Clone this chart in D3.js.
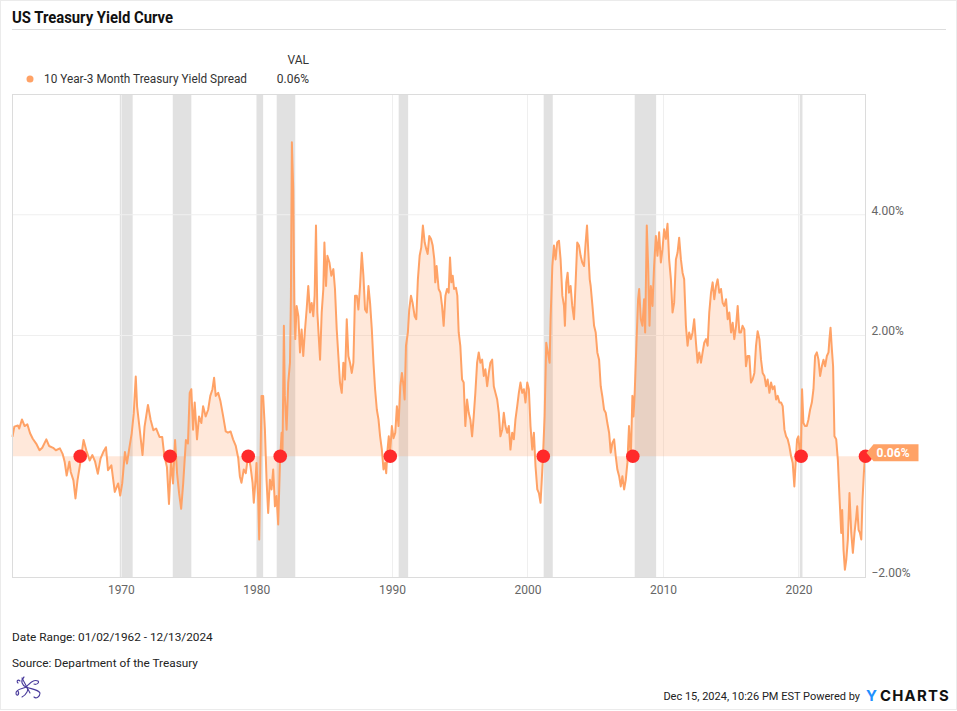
<!DOCTYPE html>
<html>
<head>
<meta charset="utf-8">
<script src="https://cdn.jsdelivr.net/npm/d3@7"></script>
<style>
  html, body { margin: 0; padding: 0; background: #fff; }
  svg { display: block; font-family: Roboto, "Noto Sans", sans-serif; }
</style>
</head>
<body>
<svg id="chart" width="957" height="711"></svg>
<script>
// ---------------- DATA ----------------
const chartTitle = "US Treasury Yield Curve";
const seriesName = "10 Year-3 Month Treasury Yield Spread";
const lastValueLabel = "0.06%";
const dateRangeText = "Date Range: 01/02/1962 - 12/13/2024";
const sourceText = "Source: Department of the Treasury";
const stampText = "Dec 15, 2024, 10:26 PM EST Powered by";

const startYear = 1962.003;
const endYear = 2024.95;
const yTickValues = [-2, 2, 4];
const yDomain = [-2, 6];

// recession periods (decimal years)
const recessions = [
  [1969.92, 1970.87], [1973.83, 1975.2], [1980.0, 1980.5], [1981.5, 1982.87],
  [1990.5, 1991.2], [2001.2, 2001.87], [2007.92, 2009.5], [2020.1, 2020.3]
];

// dates at which the spread crosses / touches zero (red markers)
const inversionDates = [1967.0, 1973.63, 1979.4, 1981.76, 1989.88, 2001.17, 2007.78, 2020.2, 2024.95];

// 10Y-3M spread (% points), [decimal year, value]
const spreadSeries = [
  [1962.0,0.32],[1962.14,0.49],[1962.4,0.51],[1962.5,0.46],[1962.7,0.61],[1962.9,0.50],
  [1963.1,0.53],[1963.3,0.38],[1963.5,0.29],[1963.75,0.21],[1964.0,0.10],[1964.2,0.14],
  [1964.5,0.28],[1964.7,0.17],[1965.0,0.14],[1965.2,0.10],[1965.5,0.13],[1965.7,0.04],
  [1965.85,-0.09],[1966.0,-0.32],[1966.2,-0.09],[1966.3,-0.26],[1966.5,-0.40],[1966.65,-0.70],
  [1966.8,-0.40],[1967.0,-0.12],[1967.25,0.27],[1967.45,0.10],[1967.7,-0.07],[1967.9,0.02],
  [1968.1,-0.09],[1968.3,-0.29],[1968.5,-0.04],[1968.7,0.07],[1968.9,0.15],[1969.05,-0.23],
  [1969.3,-0.15],[1969.55,-0.59],[1969.8,-0.45],[1969.95,-0.65],[1970.1,-0.45],[1970.3,0.07],
  [1970.45,-0.12],[1970.6,0.10],[1970.8,0.38],[1970.95,0.71],[1971.1,1.32],[1971.2,0.82],
  [1971.4,0.43],[1971.6,0.02],[1971.75,0.49],[1972.0,0.85],[1972.2,0.60],[1972.4,0.43],
  [1972.6,0.46],[1972.85,0.32],[1973.05,0.32],[1973.2,0.02],[1973.4,-0.18],[1973.55,-0.79],
  [1973.7,-0.07],[1973.85,-0.45],[1974.0,0.27],[1974.15,-0.29],[1974.3,-0.62],[1974.45,-0.87],
  [1974.6,-0.45],[1974.8,0.27],[1974.95,0.21],
  [1975.08,1.05],[1975.2,1.11],[1975.33,0.44],[1975.45,0.89],[1975.62,0.28],[1975.77,0.66],
  [1975.94,0.55],[1976.07,0.83],[1976.26,0.66],[1976.44,0.77],[1976.6,1.0],[1976.76,1.11],
  [1976.88,1.30],[1977.0,1.0],[1977.18,1.05],[1977.35,0.91],[1977.55,0.66],[1977.74,0.41],
  [1977.9,0.39],[1978.1,0.41],[1978.28,0.28],[1978.48,0.17],[1978.66,-0.03],[1978.78,-0.33],
  [1978.9,-0.44],[1979.07,-0.22],[1979.22,-0.28],[1979.4,0.03],[1979.57,-0.17],[1979.72,-0.44],
  [1979.81,-0.77],[1979.94,-0.39],[1980.01,-0.11],[1980.13,-0.66],[1980.21,-1.38],[1980.3,-0.11],
  [1980.38,1.0],[1980.5,1.0],[1980.63,0.44],[1980.75,-0.39],[1980.87,-0.94],[1981.0,-0.39],
  [1981.12,-0.55],[1981.24,-0.22],[1981.37,-0.83],[1981.49,-0.66],[1981.61,-1.13],[1981.74,-0.11],
  [1981.86,0.39],[1981.93,0.11],[1982.03,2.16],[1982.1,1.0],[1982.23,0.44],[1982.35,1.22],
  [1982.48,1.55],[1982.55,2.66],[1982.62,5.2],[1982.72,4.43],[1982.8,2.54],[1982.87,1.94],
  [1982.97,2.49],[1983.1,2.32],[1983.22,1.72],[1983.34,2.10],[1983.46,1.66],[1983.59,2.10],
  [1983.71,2.43],[1983.83,2.82],[1983.96,2.38],[1984.08,2.54],[1984.2,2.32],[1984.3,2.66],
  [1984.4,3.82],[1984.5,2.38],[1984.6,1.99],[1984.7,1.60],[1984.82,2.38],[1984.94,2.77],
  [1985.02,3.54],[1985.14,2.82],[1985.24,3.32],[1985.39,3.21],[1985.53,2.99],[1985.68,3.10],
  [1985.8,2.77],[1985.93,2.10],[1986.05,1.66],[1986.17,1.22],[1986.3,1.05],[1986.42,1.55],
  [1986.54,1.27],[1986.67,2.27],[1986.79,1.66],[1986.91,1.55],[1987.04,1.38],[1987.16,1.55],
  [1987.28,2.66],[1987.41,2.66],[1987.53,2.43],[1987.65,2.82],[1987.78,3.37],[1987.9,2.99],
  [1988.02,2.43],[1988.15,2.38],[1988.27,2.82],[1988.39,2.54],[1988.52,2.10],[1988.64,1.55],
  [1988.76,1.11],[1988.89,0.77],[1989.01,0.61],[1989.13,0.33],[1989.26,0.11],[1989.38,-0.22],
  [1989.5,-0.11],[1989.58,-0.28],[1989.68,0.11],[1989.77,0.33],[1989.87,0.06],[1990.0,0.50],
  [1990.12,0.30],[1990.25,0.39],[1990.37,0.83],[1990.49,0.50],[1990.62,1.16],[1990.74,1.38],
  [1990.86,1.16],[1990.94,0.94],[1991.04,1.83],[1991.18,2.05],[1991.28,2.43],[1991.41,2.66],
  [1991.53,2.54],[1991.68,2.32],[1991.8,2.27],[1991.92,2.93],[1992.05,3.32],[1992.17,3.46],
  [1992.29,3.82],[1992.42,3.54],[1992.54,3.43],[1992.64,3.35],[1992.76,3.65],[1992.89,3.60],
  [1993.01,3.49],[1993.13,3.26],[1993.2,2.88],[1993.3,3.15],[1993.45,2.77],[1993.58,2.71],
  [1993.7,2.49],[1993.82,2.16],[1993.95,2.66],[1994.07,2.77],[1994.19,2.71],[1994.29,3.29],
  [1994.39,2.88],[1994.49,2.99],[1994.59,2.77],[1994.73,2.79],[1994.83,2.66],[1994.93,2.05],
  [1995.05,1.83],[1995.18,1.27],[1995.3,1.22],[1995.42,0.50],[1995.55,0.94],[1995.67,0.72],
  [1995.79,0.61],[1995.92,0.33],[1996.04,0.66],[1996.16,1.05],[1996.29,1.55],[1996.41,1.72],
  [1996.53,1.55],[1996.66,1.60],[1996.78,1.33],[1996.9,1.44],[1997.03,1.16],[1997.15,1.38],
  [1997.27,1.55],[1997.4,1.60],[1997.52,1.16],[1997.64,1.05],[1997.77,0.94],[1997.89,0.72],
  [1998.01,0.33],[1998.14,0.44],[1998.26,0.72],[1998.38,0.50],[1998.51,0.39],[1998.63,0.50],
  [1998.75,0.11],[1998.88,0.39],[1999.0,0.28],[1999.12,0.61],[1999.25,0.83],[1999.37,1.05],
  [1999.49,1.22],[1999.62,1.05],[1999.74,1.11],[1999.86,0.89],[1999.99,1.22],[2000.11,1.11],
  [2000.23,0.50],[2000.36,0.11],[2000.48,0.39],[2000.6,-0.17],[2000.73,-0.55],[2000.85,-0.61],
  [2000.97,-0.77],[2001.05,-0.44],[2001.15,0.0],[2001.27,0.66],[2001.39,1.88],[2001.51,1.72],
  [2001.64,1.55],[2001.71,2.27],[2001.84,3.15],[2001.96,3.49],[2002.08,3.26],[2002.2,3.54],
  [2002.33,3.57],[2002.45,3.26],[2002.58,2.66],[2002.7,2.49],[2002.77,2.16],[2002.87,2.88],
  [2002.97,3.04],[2003.07,2.71],[2003.19,2.82],[2003.31,2.49],[2003.44,2.27],[2003.56,2.88],
  [2003.68,3.54],[2003.81,3.49],[2003.93,3.32],[2004.05,3.21],[2004.18,3.15],[2004.3,3.54],
  [2004.4,3.82],[2004.5,3.37],[2004.6,2.93],
  [2004.67,2.82],[2004.8,2.49],[2004.92,2.16],[2005.04,2.05],[2005.16,1.72],[2005.29,1.60],
  [2005.41,1.16],[2005.53,0.99],[2005.66,0.77],[2005.78,0.72],[2005.9,0.55],[2006.03,0.39],
  [2006.15,0.06],[2006.27,0.22],[2006.4,0.28],[2006.52,0.0],[2006.64,-0.22],[2006.77,-0.33],
  [2006.89,-0.50],[2007.01,-0.33],[2007.14,-0.55],[2007.26,-0.39],[2007.38,-0.11],[2007.5,0.50],
  [2007.63,-0.06],[2007.75,1.0],[2007.83,0.66],[2007.92,1.05],[2008.05,1.88],[2008.17,2.60],
  [2008.25,2.77],[2008.37,2.27],[2008.49,2.16],[2008.61,2.60],[2008.69,2.05],[2008.81,3.82],
  [2008.91,3.15],[2009.01,2.16],[2009.11,2.82],[2009.23,2.49],[2009.35,3.15],[2009.48,3.65],
  [2009.6,3.32],[2009.72,3.71],[2009.85,3.21],[2009.97,3.43],[2010.09,3.76],[2010.22,3.60],
  [2010.34,3.85],[2010.46,3.26],[2010.59,2.93],[2010.71,2.38],[2010.83,2.54],[2010.96,3.26],
  [2011.08,3.37],[2011.2,3.62],[2011.33,3.26],[2011.45,3.04],[2011.57,2.93],[2011.7,2.16],
  [2011.82,1.83],[2011.94,2.05],[2012.07,1.94],[2012.19,2.05],[2012.31,2.27],[2012.44,1.88],
  [2012.56,1.55],[2012.68,1.72],[2012.81,1.55],[2012.93,1.72],[2013.05,1.88],[2013.18,1.94],
  [2013.3,1.83],[2013.42,2.38],[2013.55,2.71],[2013.67,2.88],[2013.79,2.60],[2013.92,2.82],
  [2014.04,2.93],[2014.16,2.71],[2014.29,2.77],[2014.41,2.54],[2014.53,2.49],[2014.66,2.60],
  [2014.78,2.27],[2014.9,2.38],[2015.03,2.05],[2015.15,2.21],[2015.27,1.94],[2015.4,2.16],
  [2015.52,2.49],[2015.64,2.05],
  [2015.76,2.05],[2015.88,2.16],[2016.01,2.10],[2016.13,1.49],[2016.25,1.66],[2016.38,1.66],
  [2016.5,1.22],[2016.62,1.27],[2016.75,1.38],[2016.87,1.83],[2016.99,2.07],[2017.12,1.94],
  [2017.24,1.60],[2017.36,1.38],[2017.49,1.33],[2017.61,1.16],[2017.73,1.27],[2017.86,1.05],
  [2017.98,1.22],[2018.1,1.11],[2018.23,1.16],[2018.35,0.94],[2018.47,1.0],[2018.6,0.89],
  [2018.72,0.89],[2018.84,0.83],[2018.97,0.44],[2019.09,0.33],[2019.21,0.28],[2019.33,0.17],
  [2019.46,0.0],[2019.58,-0.11],[2019.7,-0.50],[2019.78,-0.17],[2019.9,0.28],[2020.0,0.33],
  [2020.1,0.06],[2020.17,-0.06],[2020.27,1.11],[2020.37,0.55],[2020.49,0.50],[2020.62,0.50],
  [2020.74,0.61],[2020.86,0.77],[2020.99,0.89],[2021.11,1.11],[2021.23,1.66],[2021.36,1.72],
  [2021.48,1.60],[2021.6,1.33],[2021.73,1.49],[2021.85,1.60],[2021.97,1.49],[2022.1,1.66],
  [2022.22,1.72],[2022.29,1.94],[2022.37,2.13],[2022.47,1.77],[2022.56,1.49],[2022.66,0.33],
  [2022.79,0.28],[2022.91,-0.06],[2023.03,-0.66],[2023.16,-1.27],[2023.23,-0.89],[2023.33,-1.55],
  [2023.43,-1.88],[2023.53,-1.72],[2023.65,-1.38],[2023.77,-0.61],[2023.9,-1.27],[2024.02,-1.60],
  [2024.14,-1.27],[2024.27,-1.0],[2024.34,-0.83],[2024.44,-1.22],[2024.54,-1.27],[2024.64,-1.38],
  [2024.73,-0.72],[2024.83,-0.28],[2024.93,0.06],[2024.95,0.06]
];

// ---------------- CHART ----------------
const lineColor = "#ffa266";
const svg = d3.select("#chart");
const W = 957, H = 711;
const plot = { left: 12.5, right: 865.5, top: 94, bottom: 577 };

function dy(y) {
  const yr = Math.floor(y);
  const s = Date.UTC(yr, 0, 1), e = Date.UTC(yr + 1, 0, 1);
  return new Date(s + (y - yr) * (e - s));
}

const x = d3.scaleUtc().domain([dy(startYear), dy(endYear)]).range([plot.left, plot.right]);
const y = d3.scaleLinear().domain(yDomain).range([plot.bottom, plot.top]);

// outer frame
svg.append("rect").attr("x", 0.5).attr("y", 0.5).attr("width", W - 1).attr("height", H - 2)
  .attr("fill", "#fff").attr("stroke", "#ebebeb");

// title
svg.append("text").attr("x", 12).attr("y", 23).attr("font-size", 16).attr("font-weight", 700)
  .attr("fill", "#111").attr("textLength", 161).attr("lengthAdjust", "spacingAndGlyphs").text(chartTitle);
svg.append("line").attr("x1", 12).attr("x2", 946).attr("y1", 29.5).attr("y2", 29.5)
  .attr("stroke", "#dddddd");

// legend
svg.append("text").attr("x", 309).attr("y", 64).attr("text-anchor", "end").attr("font-size", 12)
  .attr("fill", "#333").text("VAL");
svg.append("circle").attr("cx", 30).attr("cy", 79).attr("r", 3.5).attr("fill", lineColor);
svg.append("text").attr("x", 44).attr("y", 83).attr("font-size", 12).attr("fill", "#333")
  .attr("textLength", 203).attr("lengthAdjust", "spacingAndGlyphs").text(seriesName);
svg.append("text").attr("x", 309).attr("y", 83).attr("text-anchor", "end").attr("font-size", 12)
  .attr("fill", "#333").text(lastValueLabel);

const g = svg.append("g");

// recession bands
g.selectAll("rect.rec").data(recessions).join("rect").attr("class", "rec")
  .attr("x", d => x(dy(d[0]))).attr("width", d => Math.max(1.5, x(dy(d[1])) - x(dy(d[0]))))
  .attr("y", plot.top).attr("height", plot.bottom - plot.top).attr("fill", "#e1e1e1");

// grid lines
const decadeTicks = x.ticks(d3.utcYear.every(10));
g.selectAll("line.vg").data(decadeTicks).join("line").attr("class", "vg")
  .attr("x1", d => Math.round(x(d)) + 0.5).attr("x2", d => Math.round(x(d)) + 0.5)
  .attr("y1", plot.top).attr("y2", plot.bottom).attr("stroke", "#efefef");
g.selectAll("line.hg").data([2, 4]).join("line").attr("class", "hg")
  .attr("x1", plot.left).attr("x2", plot.right)
  .attr("y1", d => y(d)).attr("y2", d => y(d)).attr("stroke", "#efefef").attr("stroke-width", 1.2);

// area + line
const pts = spreadSeries.map(d => ({ date: dy(d[0]), v: d[1] }));
g.append("path").datum(pts).attr("fill", "rgba(255,160,100,0.24)")
  .attr("d", d3.area().x(d => x(d.date)).y0(y(0)).y1(d => y(d.v)));
g.append("path").datum(pts).attr("fill", "none").attr("stroke", lineColor).attr("stroke-width", 2)
  .attr("stroke-linejoin", "round")
  .attr("d", d3.line().x(d => x(d.date)).y(d => y(d.v)));

// plot border
svg.append("rect").attr("x", plot.left).attr("y", plot.top + 0.5)
  .attr("width", plot.right - plot.left).attr("height", plot.bottom - plot.top)
  .attr("fill", "none").attr("stroke", "#dcdcdc");

// x axis
const xAxis = svg.append("g").attr("transform", `translate(0,${plot.bottom})`)
  .call(d3.axisBottom(x).ticks(d3.utcYear.every(10)).tickFormat(d3.utcFormat("%Y")).tickSize(0).tickPadding(8));
xAxis.select(".domain").remove();
xAxis.selectAll("text").attr("font-size", 12).attr("fill", "#666").attr("font-family", "Roboto, sans-serif");

// y axis
const yAxis = svg.append("g").attr("transform", `translate(${plot.right + 6},0)`)
  .call(d3.axisRight(y).tickValues(yTickValues).tickFormat(d => d3.format(".2f")(d) + "%").tickSize(0).tickPadding(0));
yAxis.select(".domain").remove();
yAxis.selectAll("text").attr("font-size", 12).attr("fill", "#666").attr("dy", "-0.05em")
  .attr("font-family", "Roboto, sans-serif");

// inversion markers
svg.selectAll("circle.inv").data(inversionDates).join("circle").attr("class", "inv")
  .attr("cx", d => x(dy(d))).attr("cy", y(0)).attr("r", 6.8).attr("fill", "#ff2a2a");

// last value flag
const fy = y(0) - 3.5;
const fx = plot.right + 1;
svg.append("path")
  .attr("d", `M${fx},${fy} L${fx + 7},${fy - 8.5} L${fx + 52},${fy - 8.5} L${fx + 52},${fy + 8.5} L${fx + 7},${fy + 8.5} Z`)
  .attr("fill", lineColor);
svg.append("text").attr("x", fx + 10).attr("y", fy + 4.5).attr("font-size", 12).attr("font-weight", 700)
  .attr("fill", "#fff").text(lastValueLabel);

// footer
svg.append("text").attr("x", 12).attr("y", 641).attr("font-size", 11.8).attr("fill", "#222").text(dateRangeText);
svg.append("text").attr("x", 12).attr("y", 667).attr("font-size", 11.8).attr("fill", "#222").text(sourceText);

// small logo (bottom-left)
const logo = svg.append("g").attr("transform", "translate(14,675)").attr("fill", "none")
  .attr("stroke", "#4a3c9c").attr("stroke-width", 1.1).attr("stroke-linecap", "round");
logo.append("path").attr("d", "M10,2 C6,6 8,10 12,12 C16,14 12,20 8,22");
logo.append("path").attr("d", "M12,12 C16,8 20,4 24,6 C26,8 22,10 20,9");
logo.append("path").attr("d", "M12,12 C16,14 24,14 26,18 C26,22 22,24 20,22");
logo.append("path").attr("d", "M12,12 C8,14 2,14 2,18 C2,22 6,20 4,16");
logo.append("path").attr("d", "M8,3 L16,18 M6,6 C4,4 2,6 4,8");

svg.append("text").attr("x", 860).attr("y", 700).attr("text-anchor", "end").attr("font-size", 11)
  .attr("fill", "#222").text(stampText);
svg.append("text").attr("x", 866).attr("y", 701).attr("font-size", 15).attr("font-weight", 700)
  .attr("font-family", "Inter, Roboto, sans-serif").attr("fill", "#1e90ff").text("Y");
svg.append("text").attr("x", 880).attr("y", 701).attr("font-size", 15).attr("font-weight", 700)
  .attr("letter-spacing", "1.2").attr("font-family", "Inter, Roboto, sans-serif").attr("fill", "#111")
  .attr("textLength", 70).attr("lengthAdjust", "spacingAndGlyphs").text("CHARTS");
</script>
</body>
</html>
